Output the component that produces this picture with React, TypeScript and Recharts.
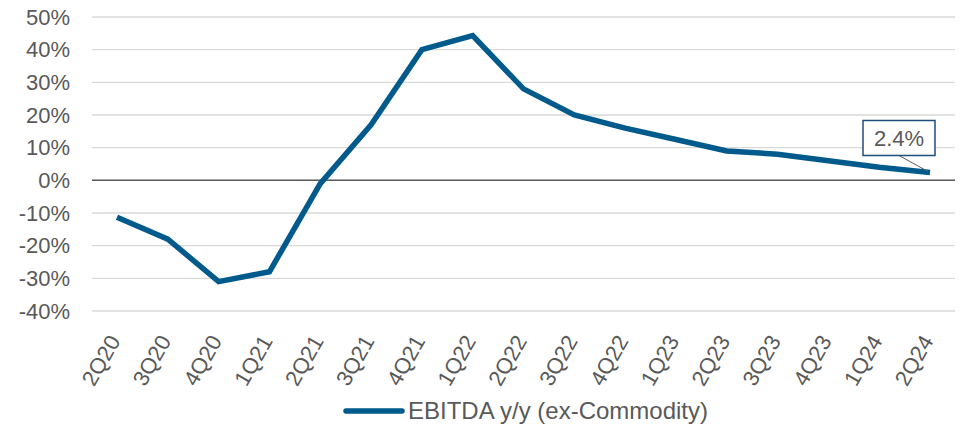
import React from 'react';
import { LineChart, Line, XAxis, YAxis, CartesianGrid, ReferenceLine, Legend, LabelList } from 'recharts';

const categories = ['2Q20','3Q20','4Q20','1Q21','2Q21','3Q21','4Q21','1Q22','2Q22','3Q22','4Q22','1Q23','2Q23','3Q23','4Q23','1Q24','2Q24'];
const ebitdaValues = [-11.3, -18, -31, -28, -1, 17, 40, 44.3, 28, 20, 16, 12.5, 9, 8, 6, 4, 2.4];
const yTicks = [-40, -30, -20, -10, 0, 10, 20, 30, 40, 50];
const seriesName = 'EBITDA y/y (ex-Commodity)';

const data = categories.map((c, i) => ({ cat: c, v: ebitdaValues[i] }));

const LINE = '#005A8C';
const TEXT = '#595959';
const FONT = 'Liberation Sans, Arial, sans-serif';

const XTick = (props: any) => {
  const { x, y, payload } = props;
  return (
    <g transform={`translate(${x + 4},${y + 22})`}>
      <text x={0} y={0} textAnchor="end" transform="rotate(-60)" fill={TEXT} fontSize={22} fontFamily={FONT}>
        {payload.value}
      </text>
    </g>
  );
};

const Callout = (props: any) => {
  const { x, y, index, value } = props;
  if (index !== categories.length - 1) return null;
  const bx = x - 67, by = y - 52, bw = 72, bh = 35;
  return (
    <g>
      <line x1={bx + bw / 2} y1={by + bh} x2={x - 2} y2={y - 1} stroke={TEXT} strokeWidth={1} />
      <rect x={bx} y={by} width={bw} height={bh} fill="#fff" stroke="#1F4E79" strokeWidth={1.5} />
      <text x={bx + bw / 2} y={by + 26} textAnchor="middle" fill={TEXT} fontSize={22} fontFamily={FONT}>
        {`${value}%`}
      </text>
    </g>
  );
};

const LegendContent = () => (
  <div style={{ display: 'flex', justifyContent: 'center', alignItems: 'center', height: 43, paddingTop: 16, paddingLeft: 96, boxSizing: 'border-box' }}>
    <svg width={62} height={10} style={{ display: 'block' }}>
      <line x1={3} y1={5} x2={59} y2={5} stroke={LINE} strokeWidth={5.5} strokeLinecap="round" />
    </svg>
    <span style={{ marginLeft: 3, color: TEXT, fontSize: 24, fontFamily: FONT }}>{seriesName}</span>
  </div>
);

export default function App() {
  return (
    <div style={{ position: 'absolute', left: 0, top: 0 }}>
      <LineChart width={963} height={424} data={data} margin={{ top: 17, right: 8, left: 0, bottom: 0 }}>
        <CartesianGrid vertical={false} stroke="#D9D9D9" strokeWidth={1.3} />
        <XAxis dataKey="cat" height={70} axisLine={false} tickLine={false} interval={0} padding={{ left: 25, right: 25 }} tick={<XTick />} />
        <YAxis
          width={92}
          domain={[-40, 50]}
          ticks={yTicks}
          interval={0}
          axisLine={false}
          tickLine={false}
          tickMargin={16}
          tickFormatter={(v: number) => `${v}%`}
          tick={{ fill: TEXT, fontSize: 22, fontFamily: FONT }}
        />
        <ReferenceLine y={0} stroke={TEXT} strokeWidth={1.5} />
        <Legend verticalAlign="bottom" height={43} content={<LegendContent />} />
        <Line
          type="linear"
          dataKey="v"
          name={seriesName}
          stroke={LINE}
          strokeWidth={5.5}
          dot={false}
          isAnimationActive={false}
        >
          <LabelList dataKey="v" content={<Callout />} />
        </Line>
      </LineChart>
    </div>
  );
}
